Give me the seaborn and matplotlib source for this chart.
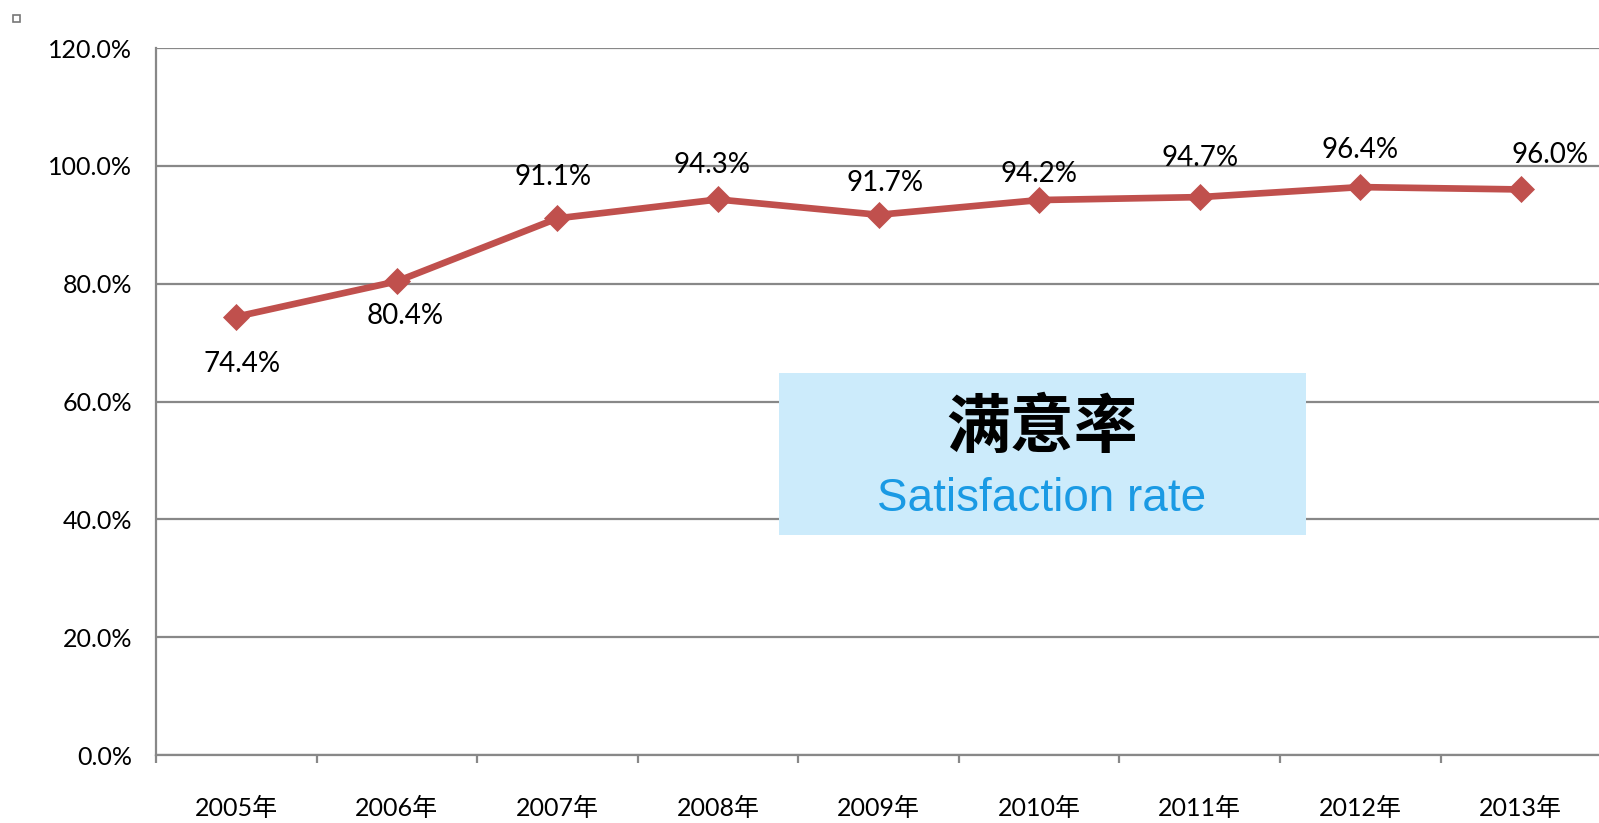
import matplotlib
matplotlib.use("Agg")
import matplotlib.pyplot as plt
from matplotlib.patches import Rectangle
from matplotlib.ticker import FuncFormatter, FixedLocator
import seaborn as sns

# data
years = ["2005年", "2006年", "2007年", "2008年", "2009年", "2010年", "2011年", "2012年", "2013年"]
rates = [74.4, 80.4, 91.1, 94.3, 91.7, 94.2, 94.7, 96.4, 96.0]
title_cn = "满意率"
title_en = "Satisfaction rate"

# label offsets in points (dx, dy)
label_offsets = [(4, -34), (6, -25), (-3, 30), (-4, 25), (5, 23), (0, 19), (0, 28), (0, 27), (21, 25)]

sns.set_style("white")
plt.rcParams["font.family"] = ["Lato", "Noto Sans CJK SC", "DejaVu Sans"]
plt.rcParams["text.color"] = "black"
plt.rcParams["xtick.labelcolor"] = "black"
plt.rcParams["ytick.labelcolor"] = "black"

grid_color = "#888888"
line_color = "#C0504D"

fig = plt.figure(figsize=(15.99, 8.23), dpi=100)
ax = fig.add_axes([0.0976, 0.0826, 0.9037, 0.859])

sns.pointplot(x=years, y=[r / 100 for r in rates], ax=ax, color=line_color,
              markers="D", markersize=10, linewidth=4.8, errorbar=None, zorder=5)

ax.set_xlim(-0.5, len(years) - 0.5)
ax.set_ylim(0, 1.2)
ax.set_yticks([0, 0.2, 0.4, 0.6, 0.8, 1.0, 1.2])
ax.yaxis.set_major_formatter(FuncFormatter(lambda v, p: f"{v * 100:.1f}%"))
ax.yaxis.grid(True, color=grid_color, linewidth=1.6)
ax.set_axisbelow(True)
ax.set_xlabel("")
ax.set_ylabel("")

# category boundaries as ticks, labels centred
ax.xaxis.set_minor_locator(FixedLocator([i - 0.5 for i in range(len(years) + 1)]))
ax.tick_params(axis="x", which="major", length=0, pad=30, labelsize=18)
ax.tick_params(axis="x", which="minor", length=6, width=1.6, color=grid_color, direction="out")
ax.tick_params(axis="y", length=6, width=1.6, color=grid_color, pad=11, labelsize=18, direction="out")
ax.tick_params(bottom=True, which="both")

sns.despine(ax=ax, top=True, right=True)
for s in ["left", "bottom"]:
    ax.spines[s].set_color(grid_color)
    ax.spines[s].set_linewidth(1.6)

for i, (v, off) in enumerate(zip(rates, label_offsets)):
    ax.annotate(f"{v:.1f}%", xy=(i, v / 100), xytext=off, textcoords="offset points",
                ha="center", va="center", fontsize=20, color="black", zorder=6)

# title box
ax.add_patch(Rectangle((0.431, 0.311), 0.365, 0.229, transform=ax.transAxes,
                       facecolor="#CCEBFB", edgecolor="none", zorder=3))
ax.text(0.613, 0.462, title_cn, transform=ax.transAxes, ha="center", va="center",
        fontsize=46, fontweight="bold", family=["Noto Sans CJK SC"], color="black", zorder=4)
ax.text(0.613, 0.362, title_en, transform=ax.transAxes, ha="center", va="center",
        fontsize=33, color="#1A9AE4", family=["Liberation Sans"], zorder=4)

# small square marker top-left
fig.patches.append(Rectangle((13 / 1599, 1 - 22 / 823), 7 / 1599, 7 / 823,
                             transform=fig.transFigure, facecolor="white",
                             edgecolor="#777777", linewidth=1.2))

fig.savefig("out.png", dpi=100)
